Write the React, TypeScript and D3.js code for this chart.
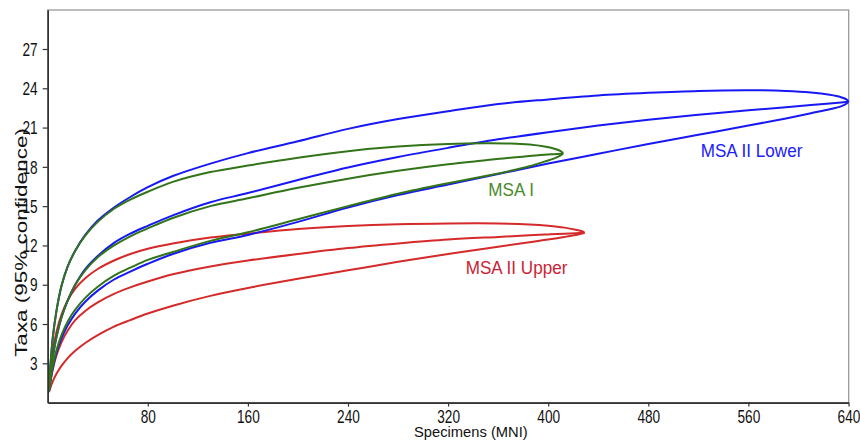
import React, { useEffect, useRef } from "react";
import * as d3 from "d3";

// axis ticks
const xTicks = [80, 160, 240, 320, 400, 480, 560, 640];
const yTicks = [3, 6, 9, 12, 15, 18, 21, 24, 27];

// MSA II Lower (blue), 640 specimens
const lowerX = [1, 2, 4, 7, 11, 16, 22, 30, 40, 53, 66, 80, 100, 130, 160, 200, 240, 280, 320, 360, 400, 440, 480, 520, 560, 590, 610, 625, 634, 638, 640];
const lowerHigh = [0.9, 2.6, 4.9, 7.0, 8.9, 10.4, 11.6, 12.8, 13.9, 14.9, 15.7, 16.45, 17.3, 18.25, 19.05, 19.95, 20.9, 21.65, 22.25, 22.8, 23.15, 23.45, 23.65, 23.8, 23.85, 23.8, 23.68, 23.5, 23.32, 23.17, 22.98];
const lowerMean = [0.9, 1.9, 3.4, 5.0, 6.5, 7.8, 9.0, 10.2, 11.2, 12.2, 12.9, 13.5, 14.3, 15.3, 16.0, 17.0, 17.95, 18.75, 19.45, 20.1, 20.65, 21.15, 21.6, 21.98, 22.32, 22.55, 22.72, 22.84, 22.92, 22.96, 22.98];
const lowerLow = [0.85, 1.5, 2.6, 3.8, 4.9, 5.9, 6.8, 7.7, 8.55, 9.4, 10.0, 10.6, 11.35, 12.2, 12.8, 13.8, 14.9, 15.85, 16.65, 17.45, 18.25, 19.0, 19.75, 20.45, 21.15, 21.7, 22.1, 22.4, 22.62, 22.8, 22.98];

// MSA I (green), 412 specimens
const msa1X = [1, 2, 4, 7, 11, 16, 22, 30, 40, 53, 66, 80, 100, 130, 160, 200, 240, 280, 320, 350, 370, 385, 397, 405, 410, 412];
const msa1High = [0.9, 2.6, 4.9, 7.0, 8.9, 10.4, 11.6, 12.75, 13.8, 14.8, 15.5, 16.1, 16.85, 17.6, 18.1, 18.7, 19.2, 19.55, 19.75, 19.8, 19.78, 19.7, 19.55, 19.38, 19.2, 19.03];
const msa1Mean = [0.9, 1.9, 3.4, 5.0, 6.5, 7.8, 9.0, 10.1, 11.1, 12.0, 12.7, 13.3, 14.1, 15.0, 15.6, 16.4, 17.1, 17.7, 18.2, 18.5, 18.7, 18.82, 18.92, 18.97, 19.0, 19.03];
const msa1Low = [0.85, 1.55, 2.75, 4.0, 5.15, 6.2, 7.1, 8.0, 8.85, 9.7, 10.3, 10.9, 11.5, 12.35, 13.0, 14.0, 15.0, 15.95, 16.75, 17.3, 17.7, 18.05, 18.4, 18.65, 18.87, 19.03];

// MSA II Upper (red), 429 specimens
const upperX = [1, 2, 4, 7, 11, 16, 22, 30, 40, 53, 66, 80, 100, 130, 160, 200, 240, 280, 320, 360, 385, 400, 413, 422, 427, 429];
const upperHigh = [0.85, 2.2, 3.9, 5.4, 6.7, 7.8, 8.7, 9.5, 10.2, 10.85, 11.35, 11.75, 12.15, 12.6, 12.9, 13.25, 13.48, 13.62, 13.68, 13.68, 13.6, 13.5, 13.36, 13.2, 13.08, 12.97];
const upperMean = [0.85, 1.5, 2.5, 3.6, 4.6, 5.5, 6.3, 7.0, 7.65, 8.3, 8.8, 9.25, 9.8, 10.4, 10.85, 11.35, 11.8, 12.15, 12.45, 12.65, 12.77, 12.84, 12.9, 12.94, 12.96, 12.97];
const upperLow = [0.8, 1.1, 1.6, 2.2, 2.8, 3.4, 3.95, 4.55, 5.15, 5.8, 6.3, 6.8, 7.4, 8.15, 8.75, 9.45, 10.1, 10.75, 11.35, 11.9, 12.25, 12.45, 12.65, 12.8, 12.9, 12.97];

const groups = [
  { name: "MSA II Upper", color: "#d42a2a", text: "#cc2233", xs: upperX, curves: [upperHigh, upperMean, upperLow], lx: 465.7, ly: 274.3 },
  { name: "MSA II Lower", color: "#1818f4", text: "#2020ff", xs: lowerX, curves: [lowerHigh, lowerMean, lowerLow], lx: 700.7, ly: 156.5 },
  { name: "MSA I", color: "#327419", text: "#4a8a2c", xs: msa1X, curves: [msa1High, msa1Mean, msa1Low], lx: 488.3, ly: 196 },
];

const W = 860;
const H = 441;
const FONT = "Liberation Sans, Arial, sans-serif";

export default function App() {
  const svgRef = useRef<SVGSVGElement>(null);

  useEffect(() => {
    const svg = d3.select(svgRef.current);
    svg.selectAll("*").remove();

    const x = d3.scaleLinear().domain([0, 640]).range([47.7, 848.5]);
    const y = d3.scaleLinear().domain([0, 30]).range([402.6, 9.7]);

    // frame
    svg
      .append("rect")
      .attr("x", 47.7)
      .attr("y", 10)
      .attr("width", 801)
      .attr("height", 392.6)
      .attr("fill", "none")
      .attr("stroke", "#9a9a9a")
      .attr("stroke-width", 1.3);

    const line = d3
      .line<[number, number]>()
      .x((d) => x(d[0]))
      .y((d) => y(d[1]))
      .curve(d3.curveCatmullRom.alpha(0.5));

    groups.forEach((g) => {
      g.curves.forEach((vals) => {
        const pts = g.xs.map((v, i) => [v, vals[i]] as [number, number]);
        svg
          .append("path")
          .attr("d", line(pts))
          .attr("fill", "none")
          .attr("stroke", g.color)
          .attr("stroke-width", 2);
      });
    });

    groups.forEach((g) => {
      svg
        .append("text")
        .attr("transform", `translate(${g.lx},${g.ly}) scale(0.95,1)`)
        .attr("font-family", FONT)
        .attr("font-size", 18)
        .attr("fill", g.text)
        .text(g.name);
    });

    // axes
    const xAxis = svg
      .append("g")
      .attr("transform", "translate(0,402.6)")
      .call(d3.axisBottom(x).tickValues(xTicks).tickSize(4).tickSizeOuter(0));
    xAxis
      .selectAll(".tick text")
      .attr("y", 0)
      .attr("dy", 0)
      .attr("transform", "translate(0,20.5) scale(0.78,1)")
      .attr("font-size", 17.5)
      .attr("font-family", FONT)
      .attr("fill", "#111");

    const yAxis = svg
      .append("g")
      .attr("transform", "translate(47.7,0)")
      .call(d3.axisLeft(y).tickValues(yTicks).tickSize(5).tickSizeOuter(0));
    yAxis
      .selectAll(".tick text")
      .attr("x", 0)
      .attr("dy", 0)
      .attr("transform", "translate(-10,6.2) scale(0.78,1)")
      .attr("font-size", 17.5)
      .attr("font-family", FONT)
      .attr("fill", "#111");

    [xAxis, yAxis].forEach((a) => {
      a.select(".domain").attr("stroke", "#333").attr("stroke-width", 1.6);
      a.selectAll(".tick line").attr("stroke", "#333").attr("stroke-width", 1.2);
    });

    svg
      .append("text")
      .attr("transform", "translate(414,437) scale(0.95,1)")
      .attr("font-family", FONT)
      .attr("font-size", 15.5)
      .attr("fill", "#111")
      .text("Specimens (MNI)");

    svg
      .append("text")
      .attr("transform", "translate(27,242.5) rotate(-90) scale(1,0.72)")
      .attr("text-anchor", "middle")
      .attr("font-family", FONT)
      .attr("font-size", 22.5)
      .attr("fill", "#111")
      .text("Taxa (95% confidence)");
  }, []);

  return (
    <div style={{ position: "absolute", left: 0, top: 0, background: "#fff" }}>
      <svg ref={svgRef} width={W} height={H} style={{ display: "block" }} />
    </div>
  );
}
